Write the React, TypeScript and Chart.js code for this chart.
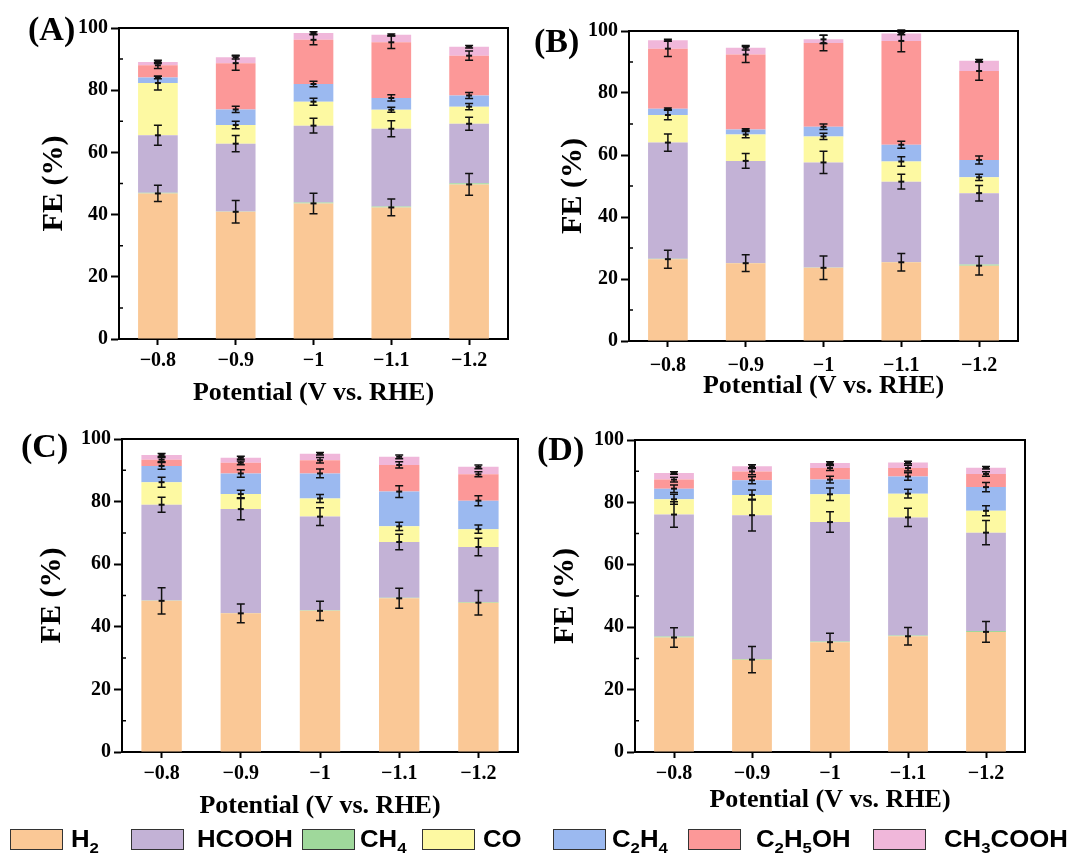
import React, { useEffect, useRef } from 'react';
import { Chart, registerables } from 'chart.js';

Chart.register(...registerables);

const SERIF = "'Liberation Serif', 'Times New Roman', Times, serif";
const SANS = "'Liberation Sans', Arial, Helvetica, sans-serif";

// ---------- categories & ticks ----------
const potentials = ['\u22120.8', '\u22120.9', '\u22121', '\u22121.1', '\u22121.2'];
const minorTicks = [10, 30, 50, 70, 90];

// stacking order (bottom -> top)
const productNames = ['H2', 'CH4', 'HCOOH', 'CO', 'C2H4', 'C2H5OH', 'CH3COOH'];
const productColors = ['#FAC896', '#9FD89B', '#C3B2D6', '#FDF9A2', '#9BB9F0', '#FC9898', '#F0B7DA'];
const legendOrder = ['H2', 'HCOOH', 'CH4', 'CO', 'C2H4', 'C2H5OH', 'CH3COOH'];

// ---------- Panel A values ----------
const A_H2 = [46.8, 40.9, 43.6, 42.3, 49.7];
const A_CH4 = [0.2, 0.1, 0.3, 0.3, 0.4];
const A_HCOOH = [18.5, 21.8, 24.7, 25.0, 19.1];
const A_CO = [16.8, 6.0, 7.7, 6.1, 5.5];
const A_C2H4 = [1.8, 5.0, 5.7, 3.8, 3.6];
const A_C2H5OH = [3.9, 14.9, 14.2, 17.9, 12.8];
const A_CH3COOH = [1.1, 1.9, 2.2, 2.4, 2.9];
// errors
const A_H2_err = [2.6, 3.6, 3.3, 2.7, 3.5];
const A_HCOOH_err = [3.2, 2.6, 2.4, 2.6, 2.1];
const A_CO_err = [2.2, 1.2, 1.1, 0.8, 1.0];
const A_C2H4_err = [0.4, 1.0, 0.9, 1.0, 1.0];
const A_C2H5OH_err = [1.0, 2.3, 1.6, 2.0, 1.5];
const A_CH3COOH_err = [0.5, 0.6, 0.4, 0.3, 0.4];

// ---------- Panel B values ----------
const B_H2 = [26.4, 25.1, 23.6, 25.4, 24.3];
const B_CH4 = [0.1, 0.1, 0.1, 0.1, 0.4];
const B_HCOOH = [37.5, 32.9, 33.9, 25.9, 23.0];
const B_CO = [8.9, 8.5, 8.4, 6.5, 5.1];
const B_C2H4 = [2.0, 1.6, 3.1, 5.4, 5.6];
const B_C2H5OH = [19.4, 24.2, 27.0, 33.5, 28.7];
const B_CH3COOH = [2.7, 2.2, 1.2, 2.4, 3.3];
const B_H2_err = [2.9, 2.7, 3.8, 2.8, 3.0];
const B_HCOOH_err = [2.8, 2.4, 3.6, 2.4, 2.5];
const B_CO_err = [1.5, 1.0, 1.0, 1.5, 1.0];
const B_C2H4_err = [0.3, 0.3, 0.9, 1.1, 1.3];
const B_C2H5OH_err = [2.5, 2.6, 2.5, 3.5, 3.0];
const B_CH3COOH_err = [0.3, 0.7, 1.3, 0.4, 0.4];

// ---------- Panel C values ----------
const C_H2 = [48.3, 44.3, 45.1, 49.1, 47.7];
const C_CH4 = [0.1, 0.1, 0.2, 0.2, 0.2];
const C_HCOOH = [30.6, 33.2, 29.9, 17.8, 17.6];
const C_CO = [7.2, 4.8, 5.8, 5.0, 5.7];
const C_C2H4 = [5.2, 6.6, 8.0, 11.1, 9.1];
const C_C2H5OH = [2.0, 3.4, 4.2, 8.5, 8.4];
const C_CH3COOH = [1.5, 1.6, 2.1, 2.6, 2.4];
const C_H2_err = [4.2, 3.0, 3.1, 3.2, 3.9];
const C_HCOOH_err = [2.4, 3.4, 2.8, 2.5, 2.8];
const C_CO_err = [1.6, 1.2, 1.3, 1.3, 1.3];
const C_C2H4_err = [1.1, 1.2, 1.4, 1.9, 1.6];
const C_C2H5OH_err = [0.7, 0.6, 0.9, 1.0, 0.8];
const C_CH3COOH_err = [0.5, 0.5, 0.4, 0.6, 0.6];

// ---------- Panel D values ----------
const D_H2 = [36.7, 29.6, 35.2, 37.1, 38.5];
const D_CH4 = [0.3, 0.2, 0.2, 0.2, 0.3];
const D_HCOOH = [39.1, 46.1, 38.3, 37.9, 31.5];
const D_CO = [4.9, 6.5, 8.9, 7.6, 7.0];
const D_C2H4 = [3.4, 4.7, 4.7, 5.5, 7.6];
const D_C2H5OH = [2.9, 2.8, 3.7, 2.7, 4.2];
const D_CH3COOH = [2.1, 1.7, 1.6, 1.8, 2.0];
const D_H2_err = [3.1, 4.2, 2.9, 2.8, 3.3];
const D_HCOOH_err = [4.1, 5.1, 3.3, 2.9, 3.9];
const D_CO_err = [1.6, 1.6, 2.0, 1.4, 1.6];
const D_C2H4_err = [1.2, 1.1, 1.1, 1.2, 1.5];
const D_C2H5OH_err = [0.8, 1.0, 0.8, 0.9, 0.7];
const D_CH3COOH_err = [0.4, 0.5, 0.4, 0.4, 0.4];

const noErr = [0, 0, 0, 0, 0];

const panelValues = {
  A: [A_H2, A_CH4, A_HCOOH, A_CO, A_C2H4, A_C2H5OH, A_CH3COOH],
  B: [B_H2, B_CH4, B_HCOOH, B_CO, B_C2H4, B_C2H5OH, B_CH3COOH],
  C: [C_H2, C_CH4, C_HCOOH, C_CO, C_C2H4, C_C2H5OH, C_CH3COOH],
  D: [D_H2, D_CH4, D_HCOOH, D_CO, D_C2H4, D_C2H5OH, D_CH3COOH],
};
const panelErrors = {
  A: [A_H2_err, noErr, A_HCOOH_err, A_CO_err, A_C2H4_err, A_C2H5OH_err, A_CH3COOH_err],
  B: [B_H2_err, noErr, B_HCOOH_err, B_CO_err, B_C2H4_err, B_C2H5OH_err, B_CH3COOH_err],
  C: [C_H2_err, noErr, C_HCOOH_err, C_CO_err, C_C2H4_err, C_C2H5OH_err, C_CH3COOH_err],
  D: [D_H2_err, noErr, D_HCOOH_err, D_CO_err, D_C2H4_err, D_C2H5OH_err, D_CH3COOH_err],
};

// ---------- layout (positions only) ----------
const layouts = [
  { id: 'A', left: 0, top: 0, w: 520, h: 415, padTop: 28, padRight: 12, yW: 119, xH: 76, yTitlePad: 36, xTitlePad: 6, xTickPad: 4, lab: { x: 28, y: 12 } },
  { id: 'B', left: 520, top: 0, w: 510, h: 420, padTop: 31, padRight: 12, yW: 109, xH: 79, yTitlePad: 35, xTitlePad: 18, xTickPad: 7, lab: { x: 534, y: 24 } },
  { id: 'C', left: 0, top: 420, w: 530, h: 410, padTop: 19, padRight: 12, yW: 122, xH: 78, yTitlePad: 34, xTitlePad: 8, xTickPad: 4, lab: { x: 21, y: 429 } },
  { id: 'D', left: 530, top: 420, w: 505, h: 410, padTop: 20, padRight: 10, yW: 105, xH: 78, yTitlePad: 17, xTitlePad: 14, xTickPad: 4, lab: { x: 537, y: 432 } },
];

const legendBoxX = [10, 131, 302, 422, 553, 688, 873];
const legendTextX = [71, 197, 360, 483, 612, 756, 944];

const framePlugin = {
  id: 'frameAndErrors',
  afterDatasetsDraw(chart: any) {
    const { ctx } = chart;
    const xs = chart.scales.x;
    const ys = chart.scales.y;
    const ds = chart.data.datasets;
    ctx.save();
    ctx.strokeStyle = '#111';
    ctx.lineWidth = 1.5;
    const n = chart.data.labels.length;
    for (let j = 0; j < n; j++) {
      let cum = 0;
      const px = xs.getPixelForValue(j);
      for (let i = 0; i < ds.length; i++) {
        cum += ds[i].data[j];
        const e = ds[i].errors ? ds[i].errors[j] : 0;
        if (!e) continue;
        const yc = ys.getPixelForValue(cum);
        const y1 = ys.getPixelForValue(cum + e);
        const y2 = ys.getPixelForValue(cum - e);
        ctx.beginPath();
        ctx.moveTo(px, y1);
        ctx.lineTo(px, y2);
        ctx.moveTo(px - 4, y1);
        ctx.lineTo(px + 4, y1);
        ctx.moveTo(px - 4, y2);
        ctx.lineTo(px + 4, y2);
        ctx.stroke();
        ctx.beginPath();
        ctx.lineWidth = 2;
        ctx.moveTo(px - 3, yc);
        ctx.lineTo(px + 3, yc);
        ctx.stroke();
        ctx.lineWidth = 1.5;
      }
    }
    ctx.restore();
  },
  afterDraw(chart: any) {
    const { ctx, chartArea } = chart;
    const { left, right, top, bottom } = chartArea;
    const ys = chart.scales.y;
    ctx.save();
    ctx.strokeStyle = '#000';
    ctx.lineWidth = 2;
    ctx.beginPath();
    ctx.moveTo(left - 1, top);
    ctx.lineTo(right, top);
    ctx.lineTo(right, bottom + 1);
    ctx.stroke();
    ctx.lineWidth = 1.5;
    ctx.beginPath();
    for (const v of minorTicks) {
      const py = ys.getPixelForValue(v);
      ctx.moveTo(left - 1, py);
      ctx.lineTo(left + 4, py);
    }
    ctx.stroke();
    ctx.restore();
  },
};

function Panel({ cfg }: { cfg: any }) {
  const ref = useRef<HTMLCanvasElement>(null);
  useEffect(() => {
    const vals = (panelValues as any)[cfg.id];
    const errs = (panelErrors as any)[cfg.id];
    const chart = new Chart(ref.current as HTMLCanvasElement, {
      type: 'bar',
      data: {
        labels: potentials,
        datasets: productNames.map((name, i) => ({
          label: name,
          data: vals[i],
          errors: errs[i],
          backgroundColor: productColors[i],
          borderWidth: 0,
          barPercentage: 0.51,
          categoryPercentage: 1,
        })) as any,
      },
      options: {
        responsive: false,
        animation: false,
        layout: { padding: { top: cfg.padTop, right: cfg.padRight, left: 0, bottom: 0 } },
        plugins: { legend: { display: false }, tooltip: { enabled: false } },
        scales: {
          x: {
            stacked: true,
            offset: true,
            grid: { display: true, drawOnChartArea: false, drawTicks: true, offset: false, tickLength: 6, tickColor: '#000', tickWidth: 2 },
            border: { display: true, color: '#000', width: 2 },
            ticks: { color: '#000', padding: cfg.xTickPad, maxRotation: 0, autoSkip: false, font: { family: SERIF, size: 20, weight: 'bold' } },
            title: { display: true, text: 'Potential (V vs. RHE)', color: '#000', font: { family: SERIF, size: 26, weight: 'bold' }, padding: { top: 0, bottom: cfg.xTitlePad } },
            afterFit: (s: any) => { s.height = cfg.xH; },
          },
          y: {
            stacked: true,
            min: 0,
            max: 100,
            grid: { display: true, drawOnChartArea: false, drawTicks: true, tickLength: 8, tickColor: '#000', tickWidth: 2 },
            border: { display: true, color: '#000', width: 2 },
            ticks: { stepSize: 20, color: '#000', padding: 3, font: { family: SERIF, size: 20, weight: 'bold' } },
            title: { display: true, text: 'FE (%)', color: '#000', font: { family: SERIF, size: 30, weight: 'bold' }, padding: { top: cfg.yTitlePad, bottom: 0 } },
            afterFit: (s: any) => { s.width = cfg.yW; },
          },
        },
      } as any,
      plugins: [framePlugin],
    });
    return () => chart.destroy();
  }, []);
  return (
    <canvas
      ref={ref}
      width={cfg.w}
      height={cfg.h}
      style={{ position: 'absolute', left: cfg.left, top: cfg.top, width: cfg.w, height: cfg.h }}
    />
  );
}

function Formula({ text }: { text: string }) {
  const parts = text.split(/(\d+)/).filter((p) => p.length > 0);
  return (
    <>
      {parts.map((p, i) =>
        /^\d+$/.test(p) ? (
          <span key={i} style={{ fontSize: 15, position: 'relative', top: 6 }}>{p}</span>
        ) : (
          <span key={i}>{p}</span>
        )
      )}
    </>
  );
}

export default function App() {
  return (
    <div style={{ position: 'absolute', left: 0, top: 0, width: 1075, height: 859, background: '#fff', overflow: 'hidden' }}>
      {layouts.map((cfg) => (
        <Panel key={cfg.id} cfg={cfg} />
      ))}
      {layouts.map((cfg) => (
        <div
          key={'lab' + cfg.id}
          style={{ position: 'absolute', left: cfg.lab.x, top: cfg.lab.y, fontFamily: SERIF, fontWeight: 'bold', fontSize: 34, lineHeight: '34px', color: '#000' }}
        >
          ({cfg.id})
        </div>
      ))}
      {legendOrder.map((name, k) => (
        <React.Fragment key={name}>
          <div
            style={{
              position: 'absolute',
              left: legendBoxX[k],
              top: 829,
              width: 51,
              height: 19,
              background: productColors[productNames.indexOf(name)],
              border: '1.5px solid #333',
            }}
          />
          <div
            style={{
              position: 'absolute',
              left: legendTextX[k],
              top: 828,
              fontFamily: SANS,
              fontWeight: 'bold',
              fontSize: 23,
              lineHeight: '23px',
              color: '#000',
              whiteSpace: 'nowrap',
              transform: 'scaleX(1.12)',
              transformOrigin: 'left center',
            }}
          >
            <Formula text={name} />
          </div>
        </React.Fragment>
      ))}
    </div>
  );
}
